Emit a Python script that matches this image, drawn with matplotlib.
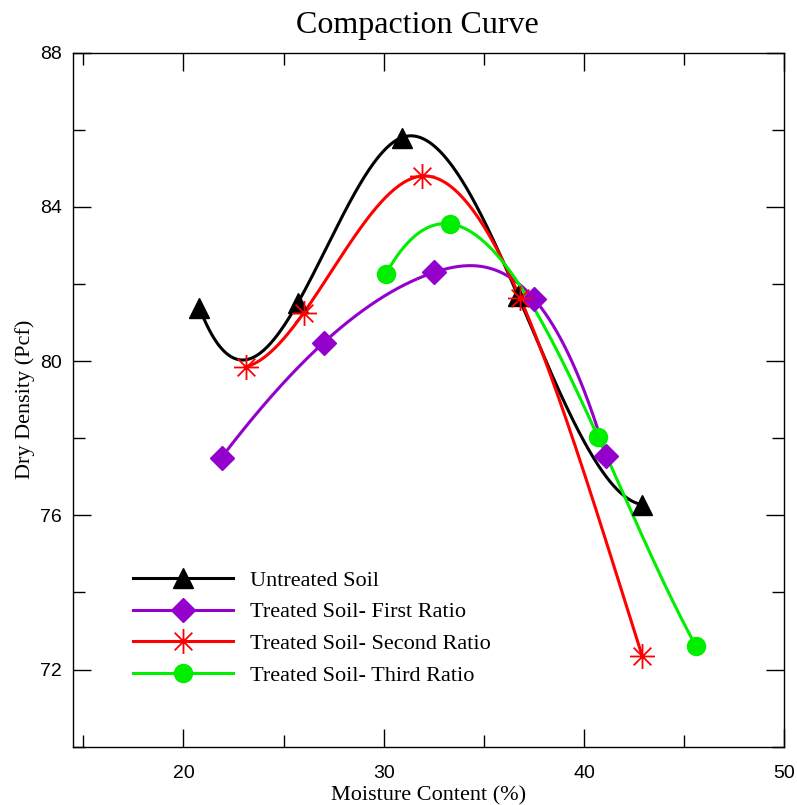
import numpy as np
import matplotlib
matplotlib.use("Agg")
import matplotlib.pyplot as plt
from matplotlib.path import Path
from matplotlib.ticker import MultipleLocator

# ---- data ----
untreated_x = [20.8, 25.7, 30.9, 36.7, 42.9]
untreated_y = [81.38, 81.5, 85.8, 81.7, 76.28]

first_x = [21.9, 27.0, 32.5, 37.5, 41.1]
first_y = [77.5, 80.48, 82.3, 81.62, 77.55]

second_x = [23.1, 26.0, 31.9, 36.8, 42.9]
second_y = [79.85, 81.25, 84.8, 81.65, 72.36]

third_x = [30.1, 33.3, 40.7, 45.6]
third_y = [82.26, 83.56, 78.03, 72.6]

labels = ["Untreated Soil", "Treated Soil- First Ratio",
          "Treated Soil- Second Ratio", "Treated Soil- Third Ratio"]
colors = ["black", "#9400CC", "#FF0000", "#00EE00"]

XLIM = (14.5, 50.0)
YLIM = (70.0, 88.0)


def notaknot_spline(x, y, n_out=400):
    """Cubic spline interpolation with not-a-knot end conditions."""
    x = np.asarray(x, float); y = np.asarray(y, float)
    n = len(x)
    h = np.diff(x)
    s = np.diff(y) / h
    A = np.zeros((n, n)); b = np.zeros(n)
    A[0, 0] = -h[1]; A[0, 1] = h[0] + h[1]; A[0, 2] = -h[0]
    A[-1, -3] = -h[-1]; A[-1, -2] = h[-2] + h[-1]; A[-1, -1] = -h[-2]
    for i in range(1, n - 1):
        A[i, i - 1] = h[i - 1]
        A[i, i] = 2 * (h[i - 1] + h[i])
        A[i, i + 1] = h[i]
        b[i] = 6 * (s[i] - s[i - 1])
    M = np.linalg.solve(A, b)
    xx = np.linspace(x[0], x[-1], n_out)
    idx = np.clip(np.searchsorted(x, xx) - 1, 0, n - 2)
    x0, x1 = x[idx], x[idx + 1]
    hh = h[idx]
    yy = (M[idx] * (x1 - xx) ** 3 / (6 * hh) + M[idx + 1] * (xx - x0) ** 3 / (6 * hh)
          + (y[idx] / hh - M[idx] * hh / 6) * (x1 - xx)
          + (y[idx + 1] / hh - M[idx + 1] * hh / 6) * (xx - x0))
    return xx, yy


# asterisk marker (8 rays)
ang = np.deg2rad([90, 0, 45, 135])
verts, codes = [], []
for a in ang:
    verts += [(np.cos(a), np.sin(a)), (-np.cos(a), -np.sin(a))]
    codes += [Path.MOVETO, Path.LINETO]
star = Path(verts, codes)

fig = plt.figure(figsize=(7.97, 8.05), dpi=100)
ax = fig.add_axes([73.3 / 797, 1 - 746.7 / 805, 711 / 797, 694 / 805])

series = [
    (untreated_x, untreated_y, dict(marker="^", ms=14, mfc=colors[0], mec=colors[0])),
    (first_x, first_y, dict(marker="D", ms=12, mfc=colors[1], mec=colors[1])),
    (second_x, second_y, dict(marker=star, ms=18, mfc="none", mec=colors[2], mew=1.3)),
    (third_x, third_y, dict(marker="o", ms=13, mfc=colors[3], mec=colors[3])),
]

handles = []
for (x, y, mk), c, lab in zip(series, colors, labels):
    cx, cy = notaknot_spline(x, y)
    ax.plot(cx, cy, color=c, lw=2.2, zorder=2)
    ax.plot(x, y, linestyle="none", zorder=3, **mk)
    h, = ax.plot([], [], color=c, lw=2.2, label=lab, **mk)
    handles.append(h)

ax.set_xlim(*XLIM)
ax.set_ylim(*YLIM)
ax.xaxis.set_major_locator(MultipleLocator(10))
ax.xaxis.set_minor_locator(MultipleLocator(5))
ax.set_yticks([72, 76, 80, 84, 88])
ax.yaxis.set_minor_locator(MultipleLocator(2))

ax.tick_params(which="both", direction="in", top=True, right=True, width=1.0)
ax.tick_params(which="major", length=13)
ax.tick_params(which="minor", length=8.5)
ax.tick_params(axis="x", which="major", pad=13, labelsize=14)
ax.tick_params(axis="y", which="major", pad=8, labelsize=14)
for lab in ax.get_xticklabels() + ax.get_yticklabels():
    lab.set_family("Liberation Sans")
for s in ax.spines.values():
    s.set_linewidth(1.0)

serif = "Liberation Serif"
ax.set_title("Compaction Curve", family=serif, fontsize=23, pad=14, x=0.484)
ax.set_xlabel("Moisture Content (%)", family=serif, fontsize=16, labelpad=3.5)
ax.set_ylabel("Dry Density (Pcf)", family=serif, fontsize=16, labelpad=4)

leg = ax.legend(handles=handles, loc="lower left", bbox_to_anchor=(0.084, 0.088),
                frameon=False, prop=dict(family=serif, size=16), numpoints=1,
                handlelength=4.5, handletextpad=0.77, labelspacing=0.5,
                borderpad=0, borderaxespad=0)

fig.savefig("out.png", dpi=100)
